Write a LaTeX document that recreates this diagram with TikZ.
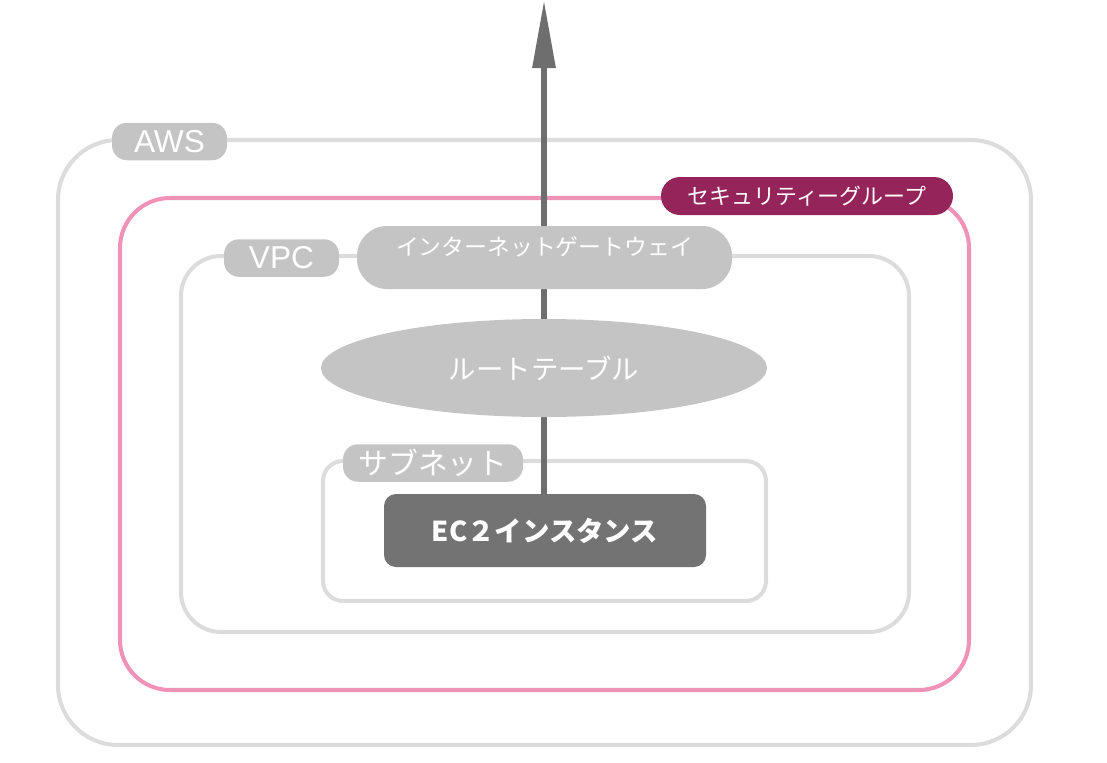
\documentclass[tikz,border=0pt]{standalone}
\usepackage{fontspec}
\setmainfont{Noto Sans CJK JP}
\newfontfamily\latinlbl{Liberation Sans}
\usetikzlibrary{arrows.meta,positioning,shapes.geometric}
\definecolor{frameln}{HTML}{DCDCDC}
\definecolor{tagfill}{HTML}{C4C4C4}
\definecolor{sgpink}{HTML}{F091B7}
\definecolor{sgfill}{HTML}{95245A}
\definecolor{ec2fill}{HTML}{737373}
\definecolor{arrowgr}{HTML}{6E6E6E}
\tikzset{
  framebox/.style={draw=frameln, line width=2.3pt},
  sgframe/.style={draw=sgpink, line width=2.3pt},
  tagbox/.style={fill=tagfill, rounded corners=0.3cm, inner sep=0pt,
                 minimum height=0.75cm, text=white, font=\fontsize{17}{17}\selectfont},
  latintag/.style={tagbox, minimum width=2.3cm, font=\latinlbl\fontsize{18}{18}\selectfont},
  sgtag/.style={fill=sgfill, rounded corners=0.38cm, inner sep=0pt,
                minimum width=5.84cm, minimum height=0.76cm, text=white,
                font=\fontsize{12.5}{12.5}\selectfont},
  gwbox/.style={fill=tagfill, rounded corners=0.6cm, minimum width=7.5cm,
                minimum height=1.26cm},
  rtbox/.style={ellipse, fill=tagfill, minimum width=8.92cm, minimum height=1.96cm,
                inner sep=0pt, text=white, font=\fontsize{15.6}{15.6}\selectfont},
  ec2box/.style={fill=ec2fill, rounded corners=0.24cm, minimum width=6.44cm,
                 minimum height=1.46cm, text=white, font=\fontsize{15.6}{15.6}\selectfont\bfseries},
  uparr/.style={-{Triangle[length=13.6mm,width=4.4mm]}, line width=3.4pt, color=arrowgr}}
\begin{document}
\begin{tikzpicture}
  \useasboundingbox (0,0) rectangle (22.14,-15.24);
  % nested frames
  \draw[framebox, rounded corners=1.2cm] (1.16,-2.8) rectangle (20.62,-14.9);
  \draw[sgframe, rounded corners=1cm] (2.4,-3.96) rectangle (19.38,-13.8);
  \draw[framebox, rounded corners=0.8cm] (3.62,-5.12) rectangle (18.18,-12.64);
  \draw[framebox, rounded corners=0.4cm] (6.46,-9.22) rectangle (15.32,-12.02);
  % instance and outbound route
  \coordinate (net) at (10.88,0);
  \node[ec2box] (ec2) at (10.9,-10.61) {EC２インスタンス};
  \draw[uparr] (ec2.north -| net) -- (net);
  \node[rtbox] (rt) at (10.88,-7.36) {ルートテーブル};
  \node[gwbox] (igw) at (10.89,-5.15) {};
  \node[text=white, font=\fontsize{13}{13}\selectfont] (igwtxt) at (10.89,-4.94)
    {インターネットゲートウェイ};
  % frame labels
  \node[latintag] (aws) at (3.39,-2.83) {AWS};
  \node[sgtag] (sg) at (16.14,-3.92) {セキュリティーグループ};
  \node[latintag] (vpc) at (5.63,-5.16) {VPC};
  \node[tagbox, minimum width=3.6cm] (sub) at (8.66,-9.26) {サブネット};
\end{tikzpicture}
\end{document}
